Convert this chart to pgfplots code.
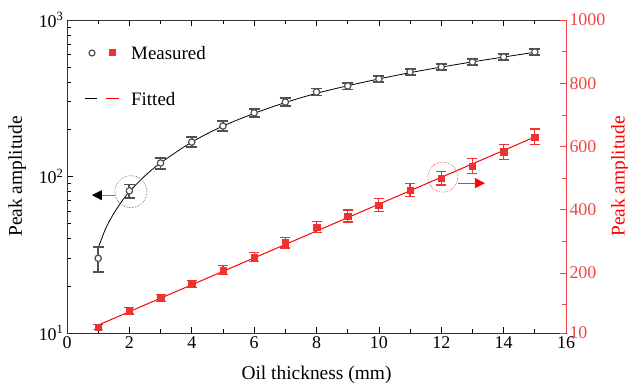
\documentclass[border=0pt]{standalone}
\usepackage{fontspec}
\setmainfont{Liberation Serif}
\usepackage{pgfplots}
\usepackage{pgfplotstable}
\pgfplotsset{compat=1.18}
\usetikzlibrary{arrows.meta}
\definecolor{mred}{RGB}{238,50,50}
\definecolor{axred}{RGB}{240,70,70}
\definecolor{dgray}{RGB}{80,80,80}

\pgfplotstableread{
x y e
1 30 5.5
2 81 8
3 122 10
4 166 12
5 210 15
6 255 16
7 299 17
8 347 18
9 379 19
10 420 20
11 466 21
12 501 22
13 539 23
14 581 24
15 625 26
}\blackdata

\pgfplotstableread{
x y
1 35
1.25 47
1.5 58
1.75 69
2 80
2.5 101
3 122
4 166
5 210
6 253
7 297
8 340
9 380
10 420
11 461
12 500
13 540
14 580
15 622
}\blackfit

\pgfplotstableread{
x y e
1 29 9
2 80 10
3 121 11
4 165 12
5 209 14
6 250 15
7 295 16
8 345 17
9 380 19
10 415 20
11 462 21
12 500 22
13 538 23
14 583 24
15 630 25
}\reddata

\pgfplotstableread{
x y
1 35
15 630
}\redfit

\begin{document}
\begin{tikzpicture}
\begin{axis}[
  scale only axis, width=499bp, height=313bp,
  xmin=0, xmax=16, ymode=log, ymin=10, ymax=1000,
  xtick={0,2,...,16}, minor xtick={1,3,...,15},
  ytick={10,100,1000},
  yticklabels={10\textsuperscript{1},10\textsuperscript{2},10\textsuperscript{3}},
  minor ytick={20,30,40,50,60,70,80,90,200,300,400,500,600,700,800,900},
  ytick pos=left, xtick pos=both, tick align=inside,
  major tick length=6bp, minor tick length=4bp,
  every tick/.style={black, line width=0.7pt},
  axis line style={line width=0.8pt, black!80},
  /pgf/number format/assume math mode=true,
  /pgf/number format/1000 sep={},
  tick label style={font=\fontsize{18}{18}\selectfont},
  xlabel={Oil thickness (mm)},
  ylabel={Peak amplitude},
  xlabel style={font=\fontsize{19.5}{19.5}\selectfont, at={(axis description cs:0.5,-0.134)}, anchor=center},
  ylabel style={font=\fontsize{19.5}{19.5}\selectfont, at={(axis description cs:-0.100,0.5)}, anchor=center, rotate=0},
  clip=false,
]
\addplot[black, line width=0.8pt, smooth] table[x=x,y=y] {\blackfit};
\addplot[only marks, mark=*, mark size=3.2bp,
  mark options={fill=white, draw=dgray, line width=1.2pt},
  error bars/.cd, y dir=both, y explicit,
  error bar style={line width=1.8pt, dgray},
  error mark options={rotate=90, mark size=5.5bp, line width=1.8pt, dgray}]
  table[x=x, y=y, y error=e] {\blackdata};

\draw[dgray, densely dotted, line width=0.6pt] (axis cs:2.05,80) circle (16bp);
\draw[gray, line width=0.8pt, -{Triangle[length=10bp,width=10bp,fill=black,color=black]}]
  (axis cs:1.55,76) -- (axis cs:0.8,76);
\end{axis}

\begin{axis}[
  scale only axis, width=499bp, height=313bp,
  xmin=0, xmax=16, ymin=10, ymax=1000,
  axis x line=none, axis y line*=right,
  ytick={10,200,400,600,800,1000},
  minor ytick={100,300,500,700,900},
  tick align=inside,
  major tick length=6bp, minor tick length=4bp,
  every tick/.style={axred, line width=0.7pt},
  y axis line style={axred, line width=0.8pt},
  /pgf/number format/assume math mode=true,
  /pgf/number format/1000 sep={},
  yticklabel style={axred, font=\fontsize{18}{18}\selectfont},
  ylabel={Peak amplitude},
  ylabel style={red, font=\fontsize{19.5}{19.5}\selectfont, at={(axis description cs:1.108,0.5)}, anchor=center, rotate=0},
  clip=false,
]
\addplot[red, line width=1pt] table[x=x,y=y] {\redfit};
\addplot[only marks, mark=square*, mark size=3.2bp, mred,
  error bars/.cd, y dir=both, y explicit,
  error bar style={line width=1.2pt, mred},
  error mark options={rotate=90, mark size=5bp, line width=1.2pt, mred}]
  table[x=x, y=y, y error=e] {\reddata};
\draw[mred, densely dotted, line width=0.6pt] (axis cs:12.05,503) circle (15bp);
\draw[mred, line width=0.8pt, -{Triangle[length=10bp,width=10bp,fill=red,color=red]}]
  (axis cs:12.55,484) -- (axis cs:13.4,484);
\end{axis}

% legend (key symbols and labels, drawn in the picture's own frame)
\draw[dgray, line width=1.2pt, fill=white] (25bp,280bp) circle (3bp);
\fill[mred] (41.5bp,276.5bp) rectangle (48.5bp,283.5bp);
\node[anchor=west, inner sep=0pt, font=\fontsize{19}{19}\selectfont] at (64bp,280bp) {Measured};
\draw[black, line width=1pt] (18bp,234bp) -- (30bp,234bp);
\draw[red, line width=1pt] (39bp,234bp) -- (52bp,234bp);
\node[anchor=west, inner sep=0pt, font=\fontsize{19}{19}\selectfont] at (64bp,234bp) {Fitted};

\pgfresetboundingbox
\path[use as bounding box] (-67bp,-52bp) rectangle (561bp,333bp);
\end{tikzpicture}
\end{document}
